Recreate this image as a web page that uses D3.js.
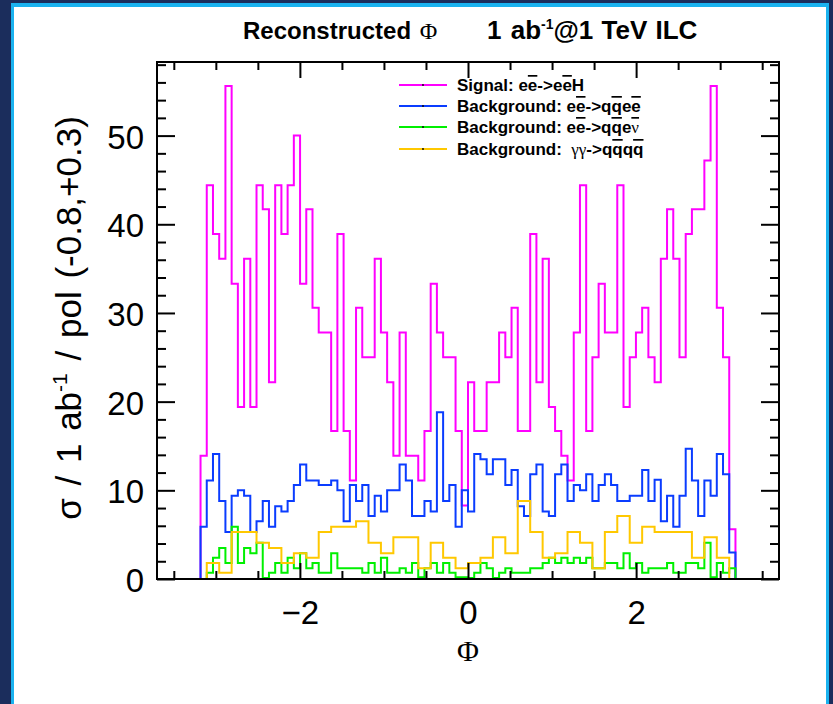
<!DOCTYPE html>
<html><head><meta charset="utf-8">
<script src="https://cdn.jsdelivr.net/npm/d3@7"></script>
<style>html,body{margin:0;padding:0;background:#fff;}svg{display:block;}text{white-space:pre;}</style>
</head><body>
<svg id="chart" width="833" height="704"></svg>
<script>
// ---------- data ----------
const xDomain = [-3.7, 3.7];
const yMax = 58.3;
const binStart = -3.182;          // first filled bin edge
const binWidth = 0.074;           // 100 bins over [-3.7, 3.7]
const signalEEeeH = [13.9,44.4,38.9,36.1,55.6,33.3,19.4,36.1,19.4,44.4,41.7,22.2,44.4,38.9,44.4,50.0,33.3,41.7,30.6,27.8,
  27.8,16.7,38.9,16.7,11.1,30.6,25.0,25.0,36.1,27.8,22.2,13.9,27.8,13.9,13.9,11.1,16.7,33.3,27.8,25.0,
  25.0,16.7,8.3,22.2,16.7,16.7,22.2,22.2,27.8,25.0,30.6,16.7,16.7,38.9,22.2,36.1,19.4,16.7,13.9,11.1,
  27.8,44.4,16.7,25.0,33.3,27.8,27.8,44.4,19.4,25.0,27.8,30.6,25.0,22.2,36.1,41.7,36.1,25.0,38.9,41.7,
  41.7,47.2,55.6,30.6,25.0,5.6];
const bgEEqqee = [5.9,11.1,14.1,8.8,5.3,9.4,10.0,9.4,5.3,6.5,8.8,5.9,8.2,7.6,8.8,10.6,12.9,11.1,11.1,10.6,
  10.6,11.1,10.0,6.5,10.6,8.8,10.6,7.1,9.4,7.6,10.0,10.0,12.9,11.1,7.1,7.1,8.8,7.6,18.8,8.8,
  10.6,5.9,10.0,7.6,14.1,13.5,11.8,13.5,13.5,10.6,12.3,8.2,7.1,11.8,12.9,7.6,7.1,11.8,12.9,8.8,
  10.6,10.0,11.8,8.8,10.6,11.8,10.6,8.8,8.8,9.4,9.4,12.3,8.8,11.2,6.5,9.4,5.9,9.4,14.7,11.1,
  7.1,11.1,9.4,14.1,11.8,3.0];
const bgEEqqev = [0,0.7,2.4,3.5,1.8,5.9,1.8,3.5,2.9,4.1,0.1,0.7,1.8,0.7,2.4,1.2,2.9,1.2,1.8,0.7,
  0.7,2.9,1.2,1.2,1.2,1.2,0.7,1.8,0.7,2.4,0.7,0.7,1.2,0.7,1.8,0.2,1.2,1.8,0.7,1.8,
  0.7,0.2,0.2,0.1,0.7,1.8,1.2,0.1,0.7,1.2,0.7,0.7,0.7,1.2,1.2,1.8,2.4,1.8,2.4,1.8,
  2.4,1.8,2.4,1.2,1.2,1.8,1.8,1.2,2.9,1.2,1.8,0.7,1.2,1.2,1.2,1.8,0.7,0.7,1.8,1.8,
  1.2,4.1,0.2,1.8,0.7,1.2];
const ggStart = -3.108;            // 50 bins over [-3.7, 3.7]
const ggWidth = 0.148;
const bgGGqqqq = [1.8,0.7,5.3,5.3,4.1,3.5,1.8,2.9,2.4,5.3,5.9,5.9,6.5,4.1,2.9,4.7,4.7,1.2,4.1,2.4,
  1.2,1.8,2.4,4.7,2.9,8.8,5.3,2.4,2.9,5.3,4.1,1.2,5.3,7.1,4.1,5.9,5.3,5.3,5.3,2.4,4.7,2.4];
const xMajorTicks = [-2, 0, 2];
const xMinorTicks = [-3.5,-3,-2.5,-1.5,-1,-0.5,0.5,1,1.5,2.5,3,3.5];
const yMajorTicks = [0, 10, 20, 30, 40, 50];
const yMinorTicks = [2,4,6,8,12,14,16,18,22,24,26,28,32,34,36,38,42,44,46,48,52,54,56,58];
const seriesColors = ["#ff00ff", "#0a3cff", "#00f000", "#ffc800"];

// ---------- setup ----------
const svg = d3.select("#chart");
const SANS = "'Liberation Sans', Arial, Helvetica, sans-serif";
const SERIF = "'Liberation Serif', 'DejaVu Serif', serif";

svg.append("rect").attr("width", 833).attr("height", 704).attr("fill", "#1b2d5c");
svg.append("rect").attr("x", 11).attr("y", 3).attr("width", 818).attr("height", 710).attr("fill", "#1ab2ef");
svg.append("rect").attr("x", 14).attr("y", 7).attr("width", 812).attr("height", 710).attr("fill", "#ffffff");

const L = 157, R = 779, T = 62, B = 579;
const x = d3.scaleLinear().domain(xDomain).range([L, R]);
const y = d3.scaleLinear().domain([0, yMax]).range([B, T]);

// histograms
function histPoints(vals, start, w) {
  const pts = [[xDomain[0], 0]];
  vals.forEach((v, i) => pts.push([start + i * w, v]));
  pts.push([start + vals.length * w, 0]);
  pts.push([xDomain[1], 0]);
  return pts;
}
const line = d3.line().x(d => x(d[0])).y(d => y(d[1])).curve(d3.curveStepAfter);
const hists = [
  [signalEEeeH, binStart, binWidth],
  [bgEEqqee, binStart, binWidth],
  [bgEEqqev, binStart, binWidth],
  [bgGGqqqq, ggStart, ggWidth]
];
hists.forEach((h, i) => {
  svg.append("path").attr("d", line(histPoints(h[0], h[1], h[2])))
    .attr("fill", "none").attr("stroke", seriesColors[i]).attr("stroke-width", 2)
    .attr("stroke-linejoin", "miter");
});

// frame
svg.append("rect").attr("x", L).attr("y", T).attr("width", R - L).attr("height", B - T)
  .attr("fill", "none").attr("stroke", "#000").attr("stroke-width", 2);

function styleAxis(g) {
  g.select(".domain").remove();
  g.selectAll(".tick line").attr("stroke", "#000").attr("stroke-width", 2);
  g.selectAll("text").attr("font-family", SANS).attr("font-size", 33).attr("fill", "#000");
}
// x axes
svg.append("g").attr("transform", `translate(0,${B})`)
  .call(d3.axisBottom(x).tickValues(xMajorTicks).tickSize(-16).tickPadding(22)
    .tickFormat(d => d < 0 ? "\u2212" + Math.abs(d) : String(d))).call(styleAxis);
svg.append("g").attr("transform", `translate(0,${B})`)
  .call(d3.axisBottom(x).tickValues(xMinorTicks).tickSize(-8).tickFormat("")).call(styleAxis);
svg.append("g").attr("transform", `translate(0,${T})`)
  .call(d3.axisTop(x).tickValues(xMajorTicks).tickSize(-16).tickFormat("")).call(styleAxis);
svg.append("g").attr("transform", `translate(0,${T})`)
  .call(d3.axisTop(x).tickValues(xMinorTicks).tickSize(-8).tickFormat("")).call(styleAxis);
// y axes
svg.append("g").attr("transform", `translate(${L},0)`)
  .call(d3.axisLeft(y).tickValues(yMajorTicks).tickSize(-18).tickPadding(13)).call(styleAxis)
  .selectAll("text").attr("dy", "0.38em");
svg.append("g").attr("transform", `translate(${L},0)`)
  .call(d3.axisLeft(y).tickValues(yMinorTicks).tickSize(-9).tickFormat("")).call(styleAxis);
svg.append("g").attr("transform", `translate(${R},0)`)
  .call(d3.axisRight(y).tickValues(yMajorTicks).tickSize(-18).tickFormat("")).call(styleAxis);
svg.append("g").attr("transform", `translate(${R},0)`)
  .call(d3.axisRight(y).tickValues(yMinorTicks).tickSize(-9).tickFormat("")).call(styleAxis);

// x title
svg.append("text").attr("x", x(0)).attr("y", 661).attr("text-anchor", "middle")
  .attr("font-family", SERIF).attr("font-size", 30).text("\u03A6");

// y title
const yt = svg.append("text").attr("transform", "translate(81,318) rotate(-90)")
  .attr("text-anchor", "middle").attr("font-family", SANS).attr("font-size", 35).attr("word-spacing", 3);
yt.append("tspan").text("\u03C3 / 1 ab");
yt.append("tspan").attr("font-size", 21).attr("dy", -14).text("-1");
yt.append("tspan").attr("dy", 14).text(" / pol (-0.8,+0.3)");

// title
const tt = svg.append("text").attr("x", 243).attr("y", 39).attr("text-anchor", "start")
  .attr("font-family", SANS).attr("font-weight", "bold").attr("font-size", 24).attr("word-spacing", 2);
tt.append("tspan").text("Reconstructed ");
tt.append("tspan").attr("font-family", SERIF).attr("font-weight", "normal").text("\u03A6");
tt.append("tspan").attr("x", 487).attr("font-size", 26).text("1 ab");
tt.append("tspan").attr("font-size", 14).attr("dy", -10).text("-1");
tt.append("tspan").attr("dy", 10).attr("font-size", 26).attr("word-spacing", 1).text("@1 TeV ILC");

// legend
const legendLabels = [
  [["Signal: e"], ["e", 1], ["->e"], ["e", 1], ["H"]],
  [["Background: e"], ["e", 1], ["->q"], ["q", 1], ["e"], ["e", 1]],
  [["Background: e"], ["e", 1], ["->q"], ["q", 1], ["e"], ["\u03BD", 1, 1]],
  [["Background:  "], ["\u03B3\u03B3", 0, 1], ["->q"], ["q", 1], ["q"], ["q", 1]]
];
const legendRowY = [85, 106, 127, 149];
legendLabels.forEach((segs, i) => {
  const ry = legendRowY[i];
  svg.append("line").attr("x1", 399).attr("x2", 447).attr("y1", ry).attr("y2", ry)
    .attr("stroke", seriesColors[i]).attr("stroke-width", 2);
  svg.append("circle").attr("cx", 423).attr("cy", ry).attr("r", 0.9).attr("fill", "#000");
  const t = svg.append("text").attr("x", 457).attr("y", ry + 6)
    .attr("font-family", SANS).attr("font-weight", "bold").attr("font-size", 17).attr("fill", "#000");
  segs.forEach(s => {
    const ts = t.append("tspan").text(s[0]);
    if (s[2]) ts.attr("font-family", SERIF).attr("font-weight", "normal");
    if (s[1]) ts.style("text-decoration", "overline");
  });
});
</script>
</body></html>
